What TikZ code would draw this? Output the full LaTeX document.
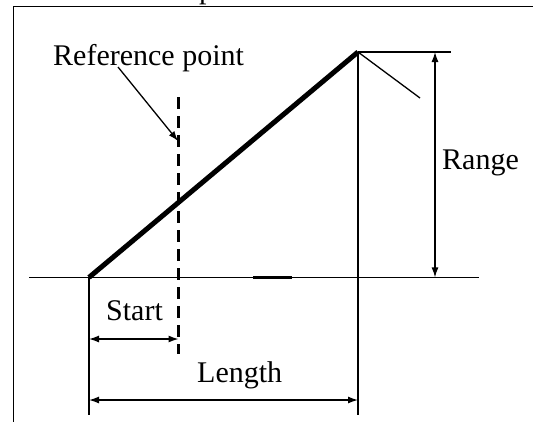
\documentclass[tikz,border=0pt]{standalone}
\usepackage{fontspec}
\setmainfont{Liberation Serif}
\usetikzlibrary{arrows.meta}
\begin{document}
\begin{tikzpicture}[x=1pt,y=-1pt,
  thin line/.style={line width=1.3pt,line cap=butt},
  dimarrow/.style={thin line,{Latex[length=10pt,width=7pt]}-{Latex[length=10pt,width=7pt]}},
  onearrow/.style={thin line,-{Latex[length=10pt,width=7pt]}},
  lbl/.style={inner sep=0pt,anchor=base west,font=\fontsize{30}{36}\selectfont}]
\useasboundingbox (0,0) rectangle (533,421);
\clip (0,0) rectangle (533,421);
% frame (partly visible)
\draw[thin line] (13.6,460) -- (13.6,6.8) -- (600,6.8);
\node[lbl] (ptop) at (199,-2) {p};
% coordinates
\coordinate (A) at (89,277.4);
\coordinate (B) at (358,52);
\coordinate (bl) at (29,277.4);
\coordinate (br) at (479,277.4);
\coordinate (th) at (451,52);
\coordinate (tick) at (420,98);
\coordinate (Bbot) at (358,415);
\coordinate (Abot) at (89,415);
\coordinate (dtop) at (178.5,97);
\coordinate (dbot) at (178.5,354);
\coordinate (rtop) at (435,52);
\coordinate (rbot) at (435,277.4);
\coordinate (sL) at (89,339);
\coordinate (sR) at (178.5,339);
\coordinate (lL) at (89,400);
\coordinate (lR) at (358,400);
\coordinate (segL) at (253,277.4);
\coordinate (segR) at (292,277.4);
\coordinate (refS) at (118,67);
\coordinate (refE) at (178,141);
% lines
\draw[thin line] (bl) -- (br);
\draw[line width=3pt] (segL) -- (segR);
\draw[line width=5pt,line cap=butt] (A) -- (B);
\draw[thin line] (B) -- (th);
\draw[thin line] (B) -- (tick);
\draw[thin line] (B) -- (Bbot);
\draw[thin line] (A) -- (Abot);
\draw[line width=2.6pt,dash pattern=on 12pt off 7pt] (dtop) -- (dbot);
\draw[dimarrow] (rtop) -- (rbot);
\draw[dimarrow] (sL) -- (sR);
\draw[dimarrow] (lL) -- (lR);
% labels
\node[lbl] (ref) at (53,65) {Reference point};
\draw[onearrow] (refS) -- (refE);
\node[lbl] (start) at (106,320.5) {Start};
\node[lbl] (length) at (197,382) {Length};
\node[lbl] (range) at (442,169) {Range};
\end{tikzpicture}
\end{document}
